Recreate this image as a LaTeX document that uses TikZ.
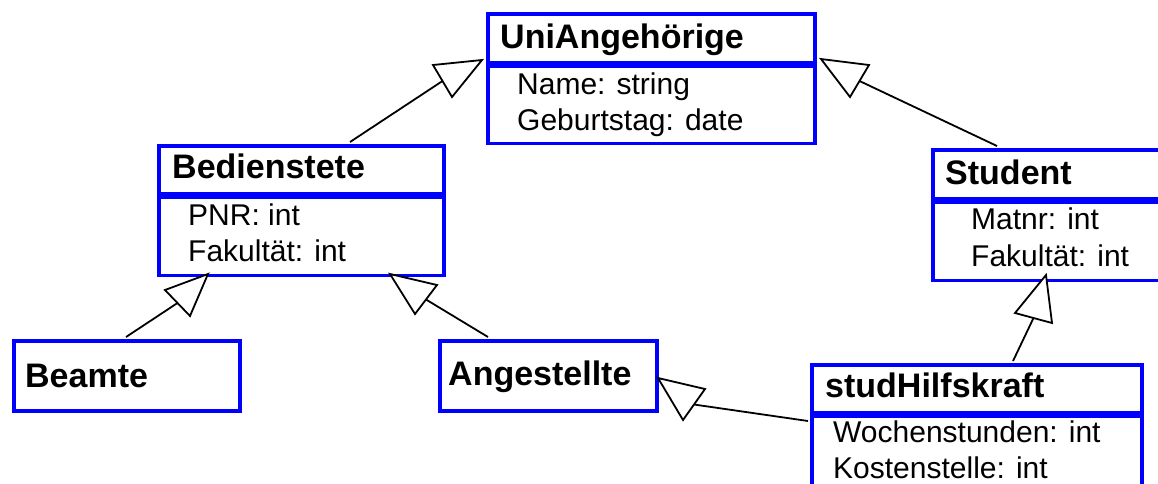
\documentclass[tikz,border=0pt]{standalone}
\usepackage{fontspec}
\setmainfont{Liberation Sans}
\definecolor{umlblue}{RGB}{0,0,255}
\begin{document}
\begin{tikzpicture}[x=1pt,y=-1pt,
  cls/.style={draw=umlblue, line width=3.5pt, rectangle, inner sep=0pt, anchor=north west},
  hdtext/.style={font=\fontsize{34}{40}\selectfont\bfseries, anchor=base west, inner sep=0pt},
  attrtext/.style={font=\fontsize{30}{36}\selectfont, anchor=base west, inner sep=0pt},
  conn/.style={draw=black, line width=1.8pt},
  gentri/.style={draw=black, line width=1.8pt, fill=white, line join=miter}]
\clip (0,0) rectangle (1158,483);
\fill[white] (0,0) rectangle (1158,483);

% class boxes
\node[cls, minimum width=327pt, minimum height=49pt] (uniH) at (486,12) {};
\node[cls, minimum width=327pt, minimum height=77pt] (uniA) at (uniH.south west) {};
\node[cls, minimum width=285pt, minimum height=48pt] (bedH) at (157,144) {};
\node[cls, minimum width=285pt, minimum height=78pt] (bedA) at (bedH.south west) {};
\node[cls, minimum width=250pt, minimum height=49pt] (stuH) at (931,148) {};
\node[cls, minimum width=250pt, minimum height=78pt] (stuA) at (stuH.south west) {};
\node[cls, minimum width=226pt, minimum height=70pt] (bea) at (12,339) {};
\node[cls, minimum width=217pt, minimum height=70pt] (ang) at (438,339) {};
\node[cls, minimum width=330pt, minimum height=48pt] (shkH) at (810,363) {};
\node[cls, minimum width=330pt, minimum height=95pt] (shkA) at (shkH.south west) {};

% texts
\node[hdtext] (tUni) at (500,48) {UniAngehörige};
\node[attrtext] (tUni1) at (517,94) {Name: string};
\node[attrtext] (tUni2) at (517,130) {Geburtstag: date};
\node[hdtext] (tBed) at (172,178) {Bedienstete};
\node[attrtext] (tBed1) at (188,225) {PNR: int};
\node[attrtext] (tBed2) at (188,261) {Fakultät: int};
\node[hdtext] (tStu) at (945,184) {Student};
\node[attrtext] (tStu1) at (971,229) {Matnr: int};
\node[attrtext] (tStu2) at (971,266) {Fakultät: int};
\node[hdtext] (tBea) at (25,387) {Beamte};
\node[hdtext] (tAng) at (448,385) {Angestellte};
\node[hdtext] (tShk) at (825,397) {studHilfskraft};
\node[attrtext] (tShk1) at (833,442) {Wochenstunden: int};
\node[attrtext] (tShk2) at (833,478) {Kostenstelle: int};

% connector end points
\coordinate (aTip) at (482,60);  \coordinate (aC1) at (433,65);  \coordinate (aC2) at (452,97);
\coordinate (aBase) at (442.5,81); \coordinate (aFrom) at (350,142);
\coordinate (bTip) at (821,59);  \coordinate (bC1) at (869,65);  \coordinate (bC2) at (850,97);
\coordinate (bBase) at (859.5,81); \coordinate (bFrom) at (997,146);
\coordinate (cTip) at (208,274); \coordinate (cC1) at (165,290); \coordinate (cC2) at (190,316);
\coordinate (cBase) at (177.5,303); \coordinate (cFrom) at (126,337);
\coordinate (dTip) at (390,274); \coordinate (dC1) at (437,285); \coordinate (dC2) at (415,314);
\coordinate (dBase) at (426,299.5); \coordinate (dFrom) at (488,337);
\coordinate (eTip) at (1046,275); \coordinate (eC1) at (1015,313); \coordinate (eC2) at (1052,323);
\coordinate (eBase) at (1033.5,318); \coordinate (eFrom) at (1013,361);
\coordinate (fTip) at (658,378); \coordinate (fC1) at (705,389); \coordinate (fC2) at (683,420);
\coordinate (fBase) at (694,404.5); \coordinate (fFrom) at (808,421);

% connectors
\draw[conn] (aFrom) -- (aBase);
\draw[conn] (bFrom) -- (bBase);
\draw[conn] (cFrom) -- (cBase);
\draw[conn] (dFrom) -- (dBase);
\draw[conn] (eFrom) -- (eBase);
\draw[conn] (fFrom) -- (fBase);

% generalization triangles
\draw[gentri] (aTip) -- (aC1) -- (aC2) -- cycle;
\draw[gentri] (bTip) -- (bC1) -- (bC2) -- cycle;
\draw[gentri] (cTip) -- (cC1) -- (cC2) -- cycle;
\draw[gentri] (dTip) -- (dC1) -- (dC2) -- cycle;
\draw[gentri] (eTip) -- (eC1) -- (eC2) -- cycle;
\draw[gentri] (fTip) -- (fC1) -- (fC2) -- cycle;
\end{tikzpicture}
\end{document}
